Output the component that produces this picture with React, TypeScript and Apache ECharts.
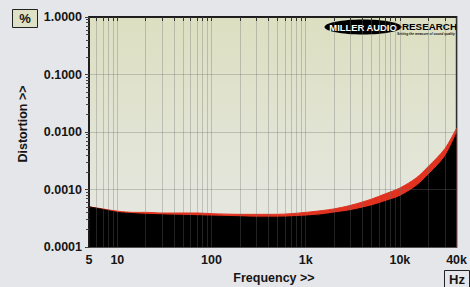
import React, { useEffect, useRef } from "react";
import * as echarts from "echarts";

const freqs = [5, 7, 10, 15, 20, 30, 50, 70, 100, 200, 300, 500, 700, 1000, 1500, 2000, 3000, 5000, 7000, 10000, 15000, 20000, 30000, 40000];
const upperPct = [0.0005, 0.00046, 0.00042, 0.0004, 0.0004, 0.00039, 0.00039, 0.00039, 0.00038, 0.00037, 0.00037, 0.00037, 0.00038, 0.0004, 0.00043, 0.00046, 0.00053, 0.00068, 0.00084, 0.00106, 0.0016, 0.0025, 0.0051, 0.0116];
const lowerPct = [0.0005, 0.00045, 0.0004, 0.00038, 0.00037, 0.000362, 0.000355, 0.00035, 0.000345, 0.000335, 0.00033, 0.00033, 0.000335, 0.000345, 0.000365, 0.00039, 0.00043, 0.00052, 0.00062, 0.00076, 0.00115, 0.0018, 0.0037, 0.0093];
const xLabelFreqs = [5, 10, 100, 1000, 10000, 40000];
const xTickFreqs = [5, 6, 7, 8, 9, 10, 20, 30, 40, 50, 60, 70, 80, 90, 100, 200, 300, 400, 500, 600, 700, 800, 900, 1000, 2000, 3000, 4000, 5000, 6000, 7000, 8000, 9000, 10000, 20000, 30000, 40000];
const yMinorPct = [0.0001, 0.0002, 0.0003, 0.0004, 0.0005, 0.0006, 0.0007, 0.0008, 0.0009, 0.001, 0.002, 0.003, 0.004, 0.005, 0.006, 0.007, 0.008, 0.009, 0.01, 0.02, 0.03, 0.04, 0.05, 0.06, 0.07, 0.08, 0.09, 0.1, 0.2, 0.3, 0.4, 0.5, 0.6, 0.7, 0.8, 0.9, 1];

const L = Math.log10;
const FONT = "'Liberation Sans', Arial, sans-serif";

export default function App() {
  const ref = useRef<HTMLDivElement>(null);
  useEffect(() => {
    document.body.style.margin = "0";
    document.body.style.background = "#e5e6ea";
    const chart = echarts.init(ref.current!, null, { renderer: "svg" });
    const upper = freqs.map((f, i) => [L(f), L(upperPct[i])]);
    const lower = freqs.map((f, i) => [L(f), L(lowerPct[i])]);
    const gridLine = "rgba(110,110,110,0.32)";
    chart.setOption({
      animation: false,
      backgroundColor: "#e5e6ea",
      grid: {
        left: 89, right: 12, top: 17, bottom: 40, show: true,
        borderColor: "#111", borderWidth: 1.5,
        backgroundColor: new echarts.graphic.LinearGradient(0, 0, 0, 1, [
          { offset: 0, color: "#dcdfc0" },
          { offset: 0.55, color: "#e2e4d5" },
          { offset: 1, color: "#e7e8e3" },
        ]),
      },
      xAxis: {
        type: "value", min: L(5), max: L(40000), z: 5,
        axisLine: { show: true, lineStyle: { color: "#111", width: 1.5 } },
        axisTick: { show: true, length: 4, customValues: xTickFreqs.map(L), lineStyle: { color: "#333" } },
        axisLabel: {
          customValues: xLabelFreqs.map(L), margin: 6,
          fontFamily: FONT, fontWeight: "bold", fontSize: 12.5, color: "#151515",
          formatter: (v: number) => { const f = Math.round(Math.pow(10, v)); return f >= 1000 ? f / 1000 + "k" : String(f); },
        },
        splitLine: { show: true, lineStyle: { color: gridLine, width: 1 } },
      },
      yAxis: [
        {
          type: "value", min: -4, max: 0, interval: 1, z: 5,
          axisLine: { show: true, lineStyle: { color: "#111", width: 1.5 } },
          axisTick: { show: true, length: 4, lineStyle: { color: "#333" } },
          axisLabel: {
            margin: 7, fontFamily: FONT, fontWeight: "bold", fontSize: 12.5, color: "#151515",
            formatter: (v: number) => Math.pow(10, v).toFixed(4),
          },
          splitLine: { show: true, lineStyle: { color: gridLine, width: 1 } },
        },
        {
          type: "value", min: -4, max: 0, position: "left", z: 5,
          axisLine: { show: false },
          axisTick: { show: true, length: 3, customValues: yMinorPct.map(L), lineStyle: { color: "#444" } },
          axisLabel: { show: false },
          splitLine: { show: false },
        },
      ],
      series: [
        {
          type: "line", data: upper, smooth: 0.3, symbol: "none",
          lineStyle: { color: "#e0321f", width: 1 },
          areaStyle: { color: "#e0321f", opacity: 1, origin: "start" },
        },
        {
          type: "line", data: lower, smooth: 0.3, symbol: "none",
          lineStyle: { color: "#000", width: 1 },
          areaStyle: { color: "#000", opacity: 1, origin: "start" },
        },
      ],
      graphic: [
        { type: "rect", shape: { x: 12.5, y: 9.5, width: 25, height: 18 }, style: { fill: "#dfe1c6", stroke: "#222", lineWidth: 1 } },
        { type: "text", x: 25, y: 18.5, style: { text: "%", font: `bold 13px ${FONT}`, fill: "#151515", align: "center", verticalAlign: "middle" } },
        { type: "rect", shape: { x: 444.5, y: 270.5, width: 25, height: 20 }, style: { fill: "#e5e6ea", stroke: "#222", lineWidth: 1 } },
        { type: "text", x: 457, y: 279.5, style: { text: "Hz", font: `bold 13px ${FONT}`, fill: "#151515", align: "center", verticalAlign: "middle" } },
        { type: "text", x: 274, y: 278, style: { text: "Frequency >>", font: `bold 12.5px ${FONT}`, fill: "#151515", align: "center", verticalAlign: "middle" } },
        { type: "text", x: 23, y: 124, rotation: Math.PI / 2, style: { text: "Distortion >>", font: `bold 12.5px ${FONT}`, fill: "#151515", align: "center", verticalAlign: "middle" } },
        { type: "ellipse", shape: { cx: 363, cy: 27, rx: 38.5, ry: 7.5 }, style: { fill: "#000" } },
        { type: "text", x: 363, y: 27.5, style: { text: "MILLER AUDIO", font: `bold 9.4px ${FONT}`, fill: "#fff", align: "center", verticalAlign: "middle" } },
        { type: "text", x: 402, y: 26.5, style: { text: "RESEARCH", font: `bold 9.8px ${FONT}`, fill: "#000", align: "left", verticalAlign: "middle" } },
        { type: "text", x: 397, y: 33.5, style: { text: "Setting the measure of sound quality", font: `italic bold 3.3px ${FONT}`, fill: "#111", align: "left", verticalAlign: "middle" } },
      ],
    });
    return () => chart.dispose();
  }, []);
  return <div ref={ref} style={{ position: "fixed", left: 0, top: 0, width: 470, height: 287, background: "#e5e6ea" }} />;
}
